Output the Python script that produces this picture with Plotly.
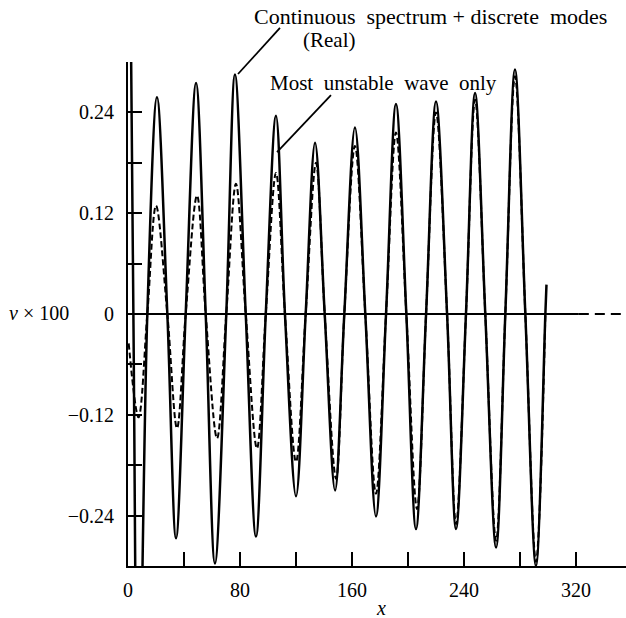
import plotly.graph_objects as go

# ---- data ----
# Solid curve: continuous spectrum + discrete modes (Real)
solid_start_x = [1.2]
solid_start_v = [0.50]
solid_peak_x = [20.7, 48.6, 76.4, 105.7, 133.6, 162.1, 191.4, 220.0, 247.9, 276.4]
solid_peak_v = [0.258, 0.275, 0.285, 0.236, 0.204, 0.222, 0.250, 0.253, 0.263, 0.291]
solid_trough_x = [7.3, 34.3, 62.1, 91.4, 120.0, 147.9, 177.1, 205.7, 234.3, 262.9, 291.4]
solid_trough_v = [-0.55, -0.267, -0.297, -0.265, -0.217, -0.210, -0.241, -0.256, -0.256, -0.278, -0.300]
solid_cross_x = [3.85, 13.8, 28.1, 41.2, 55.5, 70.2, 84.1, 98.4, 112.1, 126.9, 140.5, 154.5,
                 169.5, 184.3, 198.8, 212.9, 227.9, 241.4, 255.2, 269.5, 283.8, 298.1]
solid_end_x = [298.9]
solid_end_v = [0.035]

# Dashed curve: most unstable wave only
dash_start_x = [0.5]
dash_start_v = [-0.035]
dash_peak_x = [20.0, 49.3, 77.1, 105.7, 134.3, 162.1, 191.4, 220.0, 247.9, 276.4]
dash_peak_v = [0.129, 0.141, 0.155, 0.168, 0.180, 0.200, 0.216, 0.240, 0.255, 0.283]
dash_trough_x = [7.5, 35.0, 63.6, 92.1, 120.0, 148.6, 177.1, 206.4, 234.3, 262.9, 291.4]
dash_trough_v = [-0.123, -0.136, -0.148, -0.160, -0.176, -0.196, -0.214, -0.232, -0.250, -0.270, -0.295]
dash_cross_x = [13.8, 28.1, 41.2, 55.5, 70.2, 84.1, 98.4, 112.1, 126.9, 140.5, 154.5,
                169.5, 184.3, 198.8, 212.9, 227.9, 241.4, 255.2, 269.5, 283.8, 298.1]

x_tick_vals = [0, 40, 80, 120, 160, 200, 240, 280, 320]
x_tick_text = ["0", "", "80", "", "160", "", "240", "", "320"]
y_tick_vals = [-0.30, -0.24, -0.18, -0.12, -0.06, 0.0, 0.06, 0.12, 0.18, 0.24, 0.30]
y_tick_text = ["", "\u22120.24", "", "\u22120.12", "", "0", "", "0.12", "", "0.24", ""]


def assemble(parts):
    pts = []
    for xs, vs in parts:
        pts.extend(zip(xs, vs))
    pts.sort(key=lambda p: p[0])
    return [p[0] for p in pts], [p[1] for p in pts]


sx, sv = assemble([
    (solid_start_x, solid_start_v),
    (solid_peak_x, solid_peak_v),
    (solid_trough_x, solid_trough_v),
    (solid_cross_x, [0.0] * len(solid_cross_x)),
    (solid_end_x, solid_end_v),
])
dx, dv = assemble([
    (dash_start_x, dash_start_v),
    (dash_peak_x, dash_peak_v),
    (dash_trough_x, dash_trough_v),
    (dash_cross_x, [0.0] * len(dash_cross_x)),
])

FONT = "Liberation Serif"

fig = go.Figure()
fig.add_trace(go.Scatter(x=dx, y=dv, mode="lines",
                         line=dict(color="black", width=2, dash="6px,3px", shape="spline", smoothing=1.0),
                         hoverinfo="skip", showlegend=False))
fig.add_trace(go.Scatter(x=sx, y=sv, mode="lines",
                         line=dict(color="black", width=2.5, shape="spline", smoothing=1.0),
                         hoverinfo="skip", showlegend=False))

X_MAX = 355.7
# zero line: solid then dashed
fig.add_shape(type="line", xref="x", yref="y", x0=0, x1=322, y0=0, y1=0,
              line=dict(color="black", width=2))
fig.add_shape(type="line", xref="x", yref="y", x0=322, x1=X_MAX, y0=0, y1=0,
              line=dict(color="black", width=2, dash="10px,6px"))

# leader lines
fig.add_shape(type="line", xref="paper", yref="paper", x0=0.2209, y0=0.9762, x1=0.3052, y1=1.0675,
              line=dict(color="black", width=1.8))
fig.add_shape(type="line", xref="paper", yref="paper", x0=0.2992, y0=0.8214, x1=0.4076, y1=0.9345,
              line=dict(color="black", width=1.8))

tf = dict(family=FONT, size=21, color="black")
tf1 = dict(family=FONT, size=22, color="black")
lf = dict(family=FONT, size=20, color="black")
fig.add_annotation(text="Continuous\u00a0 spectrum\u00a0+\u00a0discrete\u00a0 modes", xref="paper", yref="paper",
                   x=0.6074, y=1.0893, showarrow=False, font=tf1, xanchor="center", yanchor="middle")
fig.add_annotation(text="(Real)", xref="paper", yref="paper",
                   x=0.4036, y=1.0437, showarrow=False, font=tf, xanchor="center", yanchor="middle")
fig.add_annotation(text="Most\u00a0 unstable\u00a0 wave\u00a0 only", xref="paper", yref="paper",
                   x=0.514, y=0.9583, showarrow=False, font=tf, xanchor="center", yanchor="middle")
fig.add_annotation(text="<i>v</i> × 100", xref="paper", yref="paper",
                   x=(7 - 128) / 498, y=(566 - 313) / 504, showarrow=False, font=lf,
                   xanchor="left", yanchor="middle")
fig.add_annotation(text="<i>x</i>", xref="paper", yref="paper",
                   x=(381 - 128) / 498, y=(566 - 608) / 504, showarrow=False, font=lf,
                   xanchor="center", yanchor="middle")

fig.update_layout(
    width=626, height=618,
    margin=dict(l=128, r=0, t=62, b=52),
    paper_bgcolor="white", plot_bgcolor="white",
    font=dict(family=FONT, size=20, color="black"),
    xaxis=dict(range=[0, X_MAX], showgrid=False, zeroline=False, showline=True,
               linecolor="black", linewidth=2, ticks="inside", ticklen=14, tickwidth=2,
               tickcolor="black", tickvals=x_tick_vals, ticktext=x_tick_text,
               ticklabelstandoff=5, tickfont=lf),
    yaxis=dict(range=[-0.30, 0.30], showgrid=False, zeroline=False, showline=True,
               linecolor="black", linewidth=2, ticks="inside", ticklen=14, tickwidth=2,
               tickcolor="black", tickvals=y_tick_vals, ticktext=y_tick_text,
               ticklabelstandoff=8, tickfont=lf),
)

fig.write_html("out.html")
